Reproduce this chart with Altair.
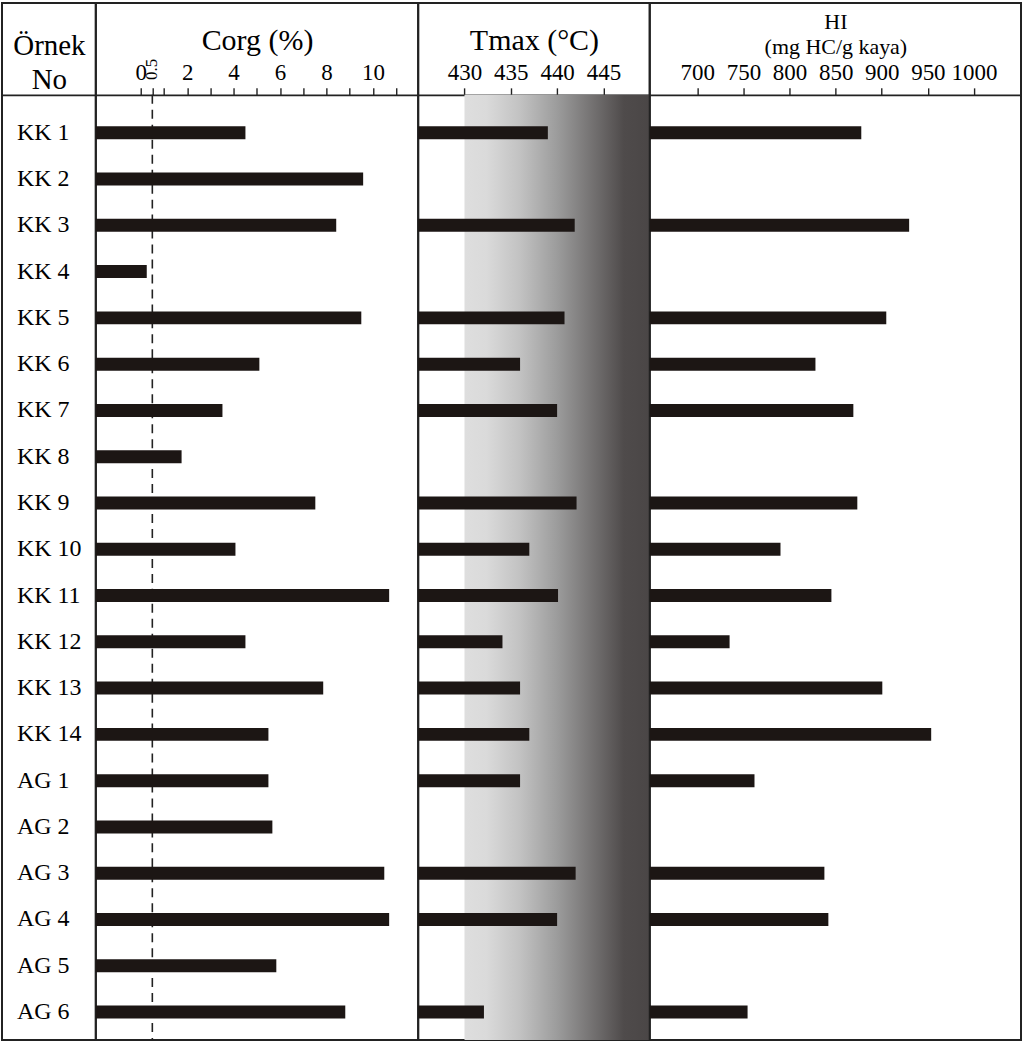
import altair as alt
import pandas as pd

samples = ["KK 1", "KK 2", "KK 3", "KK 4", "KK 5", "KK 6", "KK 7", "KK 8", "KK 9", "KK 10",
           "KK 11", "KK 12", "KK 13", "KK 14", "AG 1", "AG 2", "AG 3", "AG 4", "AG 5", "AG 6"]
corg = [4.51, 9.58, 8.42, 0.26, 9.50, 5.11, 3.52, 1.76, 7.52, 4.08,
        10.70, 4.51, 7.86, 5.50, 5.50, 5.67, 10.49, 10.70, 5.84, 8.81]
tmax = [439.0, None, 441.9, None, 440.8, 436.0, 440.0, None, 442.1, 437.0,
        440.1, 434.1, 436.0, 437.0, 436.0, None, 442.0, 440.0, None, 432.1]
hi = [877.8, None, 929.7, None, 904.9, 828.1, 869.2, None, 873.5, 790.2,
      845.4, 735.0, 900.6, 953.6, 762.0, None, 837.8, 842.1, None, 754.5]

corg_ticks = [0, 0.5, 1, 2, 3, 4, 5, 6, 7, 8, 9, 10, 11]
tmax_ticks = [430, 435, 440, 445]
hi_ticks = [700, 750, 800, 850, 900, 950, 1000]
corg_limit = [0.5]
tmax_window = [430, 450]

# scale settings
Y_DOMAIN = [-2.8035, 19.604]
BODY_TOP = -0.8195
CORG_DOMAIN = [-1.934, 11.95]
TMAX_DOMAIN = [425, 450]
HI_DOMAIN = [648.4, 1051.0]

FONT = "Liberation Serif"
BAR_COLOR = "#1c1614"
H = 1039

df = pd.DataFrame({"sample": samples, "row": list(range(len(samples))),
                   "corg": corg, "tmax": tmax, "hi": hi})


def y_scale():
    return alt.Scale(domain=Y_DOMAIN, reverse=True, nice=False, zero=False, padding=0)


y_enc = alt.Y("row:Q", scale=y_scale(), axis=None)


def top_axis(title, values=None, label_expr=None, title_size=28, title_padding=8,
             line_height=None, labels=True, ticks=True, fmt=None):
    kw = dict(orient="top", offset=-92, title=title, grid=False,
              domainColor="#222", domainWidth=1.6,
              titleFont=FONT, titleFontSize=title_size, titleFontWeight="normal",
              titleColor="black", titlePadding=title_padding,
              labels=labels, ticks=ticks)
    if values is not None:
        kw["values"] = values
    if label_expr is not None:
        kw["labelExpr"] = label_expr
    if line_height is not None:
        kw["titleLineHeight"] = line_height
    if fmt is not None:
        kw["format"] = fmt
    if labels:
        kw.update(labelFont=FONT, labelFontSize=23, labelColor="black", labelPadding=3,
                  labelOverlap=False, labelFlush=False, labelAngle=0)
    if ticks:
        kw.update(tickSize=7, tickColor="#222", tickWidth=1.4)
    return alt.Axis(**kw)


# ---- label column ----
label_panel = alt.Chart(df).transform_calculate(lx="0").mark_text(
    align="left", baseline="middle", dx=15, font=FONT, fontSize=24, color="black"
).encode(
    x=alt.X("lx:Q", scale=alt.Scale(domain=[0, 1], padding=0),
            axis=top_axis(["Örnek", "No"], labels=False, ticks=False, title_size=29,
                          title_padding=0, line_height=34)),
    y=y_enc,
    text="sample:N",
).properties(width=94, height=H)

# ---- Corg ----
corg_scale = alt.Scale(domain=CORG_DOMAIN, nice=False, zero=False, padding=0)
corg_axis = top_axis("Corg (%)", values=corg_ticks,
                     label_expr="(datum.value % 2 == 0 && datum.value <= 10) ? datum.label : ''",
                     title_size=30, title_padding=6, fmt="d")
limit_df = pd.DataFrame({"x": corg_limit, "y1": [BODY_TOP], "y2": [Y_DOMAIN[1]],
                         "ly": [-1.37], "lab": ["0.5"]})
corg_rule = alt.Chart(limit_df).mark_rule(color="#222", strokeWidth=1.6, strokeDash=[9, 6]).encode(
    x=alt.X("x:Q", scale=corg_scale, axis=corg_axis),
    y=alt.Y("y1:Q", scale=y_scale(), axis=None),
    y2="y2:Q",
)
corg_lab = alt.Chart(limit_df).mark_text(angle=270, align="center", baseline="middle",
                                         font=FONT, fontSize=17, color="black").encode(
    x=alt.X("x:Q", scale=corg_scale, axis=corg_axis),
    y=alt.Y("ly:Q", scale=y_scale(), axis=None),
    text="lab:N",
)
corg_bars = alt.Chart(df).mark_bar(orient="horizontal", size=13, color=BAR_COLOR).encode(
    x=alt.X("corg:Q", scale=corg_scale, axis=corg_axis),
    x2=alt.X2(datum=CORG_DOMAIN[0]),
    y=y_enc,
)
corg_panel = alt.layer(corg_rule, corg_bars, corg_lab).properties(width=323, height=H)

# ---- Tmax ----
tmax_scale = alt.Scale(domain=TMAX_DOMAIN, nice=False, zero=False, padding=0)
tmax_axis = top_axis("Tmax (°C)", values=tmax_ticks, title_size=30, title_padding=6, fmt="d")
grad = alt.Gradient(
    gradient="linear", x1=0, x2=1, y1=0, y2=0,
    stops=[
        alt.GradientStop(offset=0.0, color="#dedede"),
        alt.GradientStop(offset=0.12, color="#dadada"),
        alt.GradientStop(offset=0.3, color="#c2c2c2"),
        alt.GradientStop(offset=0.5, color="#9c9c9c"),
        alt.GradientStop(offset=0.75, color="#676464"),
        alt.GradientStop(offset=0.86, color="#4f4b4b"),
        alt.GradientStop(offset=1.0, color="#4a4646"),
    ],
)
win_df = pd.DataFrame({"x1": [tmax_window[0]], "x2": [tmax_window[1]],
                       "y1": [BODY_TOP], "y2": [Y_DOMAIN[1]]})
tmax_bg = alt.Chart(win_df).mark_rect(color=grad).encode(
    x=alt.X("x1:Q", scale=tmax_scale, axis=tmax_axis),
    x2="x2:Q",
    y=alt.Y("y1:Q", scale=y_scale(), axis=None),
    y2="y2:Q",
)
tmax_bars = alt.Chart(df).transform_filter("isValid(datum.tmax)").mark_bar(
    orient="horizontal", size=13, color=BAR_COLOR
).encode(
    x=alt.X("tmax:Q", scale=tmax_scale, axis=tmax_axis),
    x2=alt.X2(datum=TMAX_DOMAIN[0]),
    y=y_enc,
)
tmax_panel = alt.layer(tmax_bg, tmax_bars).properties(width=232, height=H)

# ---- HI ----
hi_scale = alt.Scale(domain=HI_DOMAIN, nice=False, zero=False, padding=0)
hi_axis = top_axis(["HI", "(mg HC/g kaya)"], values=hi_ticks, title_size=22,
                   title_padding=3, line_height=25, fmt="d")
hi_panel = alt.Chart(df).transform_filter("isValid(datum.hi)").mark_bar(
    orient="horizontal", size=13, color=BAR_COLOR
).encode(
    x=alt.X("hi:Q", scale=hi_scale, axis=hi_axis),
    x2=alt.X2(datum=HI_DOMAIN[0]),
    y=y_enc,
).properties(width=372, height=H)

chart = alt.hconcat(label_panel, corg_panel, tmax_panel, hi_panel, spacing=0, bounds="flush").properties(
    padding={"left": 1, "top": 1, "right": 2, "bottom": 2},
    background="white",
).configure_view(stroke="#222", strokeWidth=2)

chart.save("out.html", embed_options={"renderer": "svg", "actions": False})
